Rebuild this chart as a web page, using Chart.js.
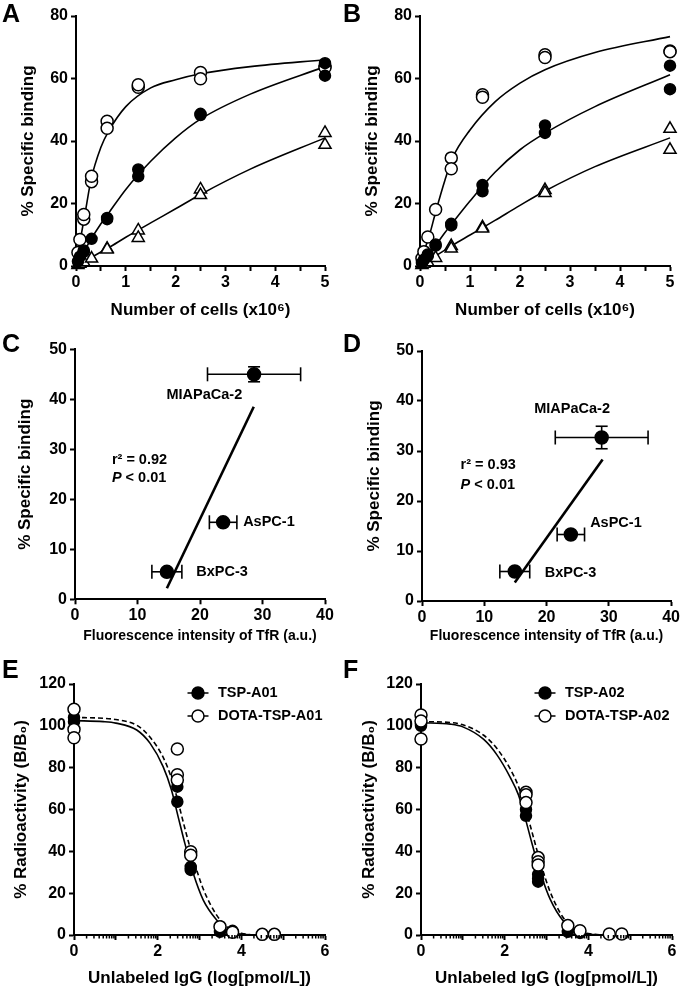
<!DOCTYPE html>
<html>
<head>
<meta charset="utf-8">
<script src="https://cdn.jsdelivr.net/npm/chart.js@4.4.0/dist/chart.umd.min.js"></script>
<style>
  body { margin: 0; background: #fff; width: 682px; height: 989px; position: relative; overflow: hidden; }
  canvas { position: absolute; }
</style>
</head>
<body>
<canvas id="pA" width="341" height="330" style="left:0;top:0"></canvas>
<canvas id="pB" width="341" height="330" style="left:341px;top:0"></canvas>
<canvas id="pC" width="341" height="320" style="left:0;top:330px"></canvas>
<canvas id="pD" width="341" height="320" style="left:341px;top:330px"></canvas>
<canvas id="pE" width="341" height="339" style="left:0;top:650px"></canvas>
<canvas id="pF" width="341" height="339" style="left:341px;top:650px"></canvas>
<script>
const FONT = '"Liberation Sans", Arial, Helvetica, sans-serif';
Chart.defaults.font.family = FONT;
Chart.defaults.color = '#000';

// A / B : % specific binding vs number of cells (x10^6)
const aOpenX = [0.039, 0.078, 0.156, 0.156, 0.3125, 0.3125, 0.625, 0.625, 1.25, 1.25, 2.5, 2.5, 5, 5];
const aOpenY = [4.3, 8.5, 15, 16.5, 27, 28.7, 46.3, 44.1, 57.2, 58, 61.9, 59.9, 64, 63.5];
const aFillX = [0.039, 0.078, 0.156, 0.156, 0.3125, 0.625, 0.625, 1.25, 1.25, 2.5, 2.5, 5, 5];
const aFillY = [1.5, 3, 5, 4.5, 8.7, 15.4, 15, 30.9, 28.7, 48.7, 48.3, 64.9, 60.9];
const aTriX = [0.039, 0.078, 0.156, 0.3125, 0.625, 0.625, 1.25, 1.25, 2.5, 2.5, 5, 5];
const aTriY = [0.3, 0.7, 1.2, 2.4, 5.5, 5.3, 11.4, 9, 24.5, 22.7, 42.6, 38.8];

const bOpenX = [0.039, 0.078, 0.156, 0.3125, 0.625, 0.625, 1.25, 1.25, 2.5, 2.5, 5, 5];
const bOpenY = [2.5, 4.6, 9.3, 18.1, 34.6, 31.1, 54.8, 54, 67.6, 66.7, 68.8, 68.6];
const bFillX = [0.039, 0.078, 0.156, 0.156, 0.3125, 0.3125, 0.625, 0.625, 1.25, 1.25, 2.5, 2.5, 5, 5];
const bFillY = [1, 2, 3.7, 3.2, 6.9, 6.5, 13.5, 13, 25.9, 23.9, 45, 42.6, 64.1, 56.6];
const bTriX = [0.039, 0.078, 0.156, 0.3125, 0.625, 0.625, 1.25, 1.25, 2.5, 2.5, 5, 5];
const bTriY = [0.3, 0.7, 1.2, 2.6, 6.4, 5.6, 12.4, 12, 24.3, 23.4, 43.9, 37.2];

// fitted curves
const fitCellsX = [0, 0.1, 0.2, 0.3, 0.5, 0.65, 1, 1.5, 2, 2.5, 3.5, 5];
const aFitOpen = [0, 9.5, 18.5, 27.5, 38, 43, 51, 57, 59.6, 61.5, 63.8, 66];
const aFitFill = [0, 2.8, 5.7, 8.5, 13.5, 16.8, 24.5, 33.5, 41, 47, 55, 63.8];
const aFitTri = [0, 0.9, 1.8, 2.7, 4.5, 5.8, 9.2, 13.8, 18.3, 22.9, 31, 41];
const bFitOpen = [0, 5.5, 10.5, 16.5, 27.5, 34.5, 43.5, 52.5, 58.5, 62.8, 68.3, 73.4];
const bFitFill = [0, 2.1, 4.2, 6.3, 10.7, 13.8, 20.8, 30, 37.2, 42.5, 51, 61.2];
const bFitTri = [0, 1, 2, 3.1, 5.1, 6.6, 9.9, 14.6, 19.4, 24, 31.8, 41];

// C / D : binding vs TfR fluorescence
const cellLines = ['MIAPaCa-2', 'AsPC-1', 'BxPC-3'];
const cTfr = [28.65, 23.7, 14.7];
const cTfrErr = [7.45, 2.2, 2.4];
const cBind = [45.0, 15.4, 5.5];
const cBindErr = [1.5, 0, 0];
const cFitX = [14.7, 28.6];
const cFitY = [2.2, 38.5];
const dTfr = [28.85, 23.9, 14.9];
const dTfrErr = [7.45, 2.2, 2.4];
const dBind = [32.7, 13.3, 5.9];
const dBindErr = [2.25, 0, 0];
const dFitX = [14.9, 29.0];
const dFitY = [3.7, 28.3];

// E / F : competition, % radioactivity vs log unlabeled IgG
const eTspX = [0, 0, 2.47, 2.47, 2.79, 2.79, 3.49, 3.79];
const eTspY = [104, 102, 70.9, 63.7, 32.6, 31.1, 1.5, 2];
const eDotaX = [0, 0, 0, 2.47, 2.47, 2.47, 2.79, 2.79, 3.49, 3.79, 4.5, 4.79];
const eDotaY = [107.9, 98.3, 94.3, 88.9, 76.6, 74.1, 39.8, 38.1, 4, 1.3, 0.3, 0.3];
const fTspX = [0, 0, 2.51, 2.51, 2.8, 2.8, 2.8, 3.51, 3.8];
const fTspY = [101, 100, 60, 57, 29, 27, 25.5, 1.5, 1];
const fDotaX = [0, 0, 0, 2.51, 2.51, 2.51, 2.8, 2.8, 2.8, 3.51, 3.8, 4.5, 4.8];
const fDotaY = [105.2, 102.3, 93.7, 68.2, 67, 63.3, 37, 35, 33.5, 4.5, 2, 0.5, 0.5];

const fitLogX = [0, 0.7, 1, 1.5, 1.82, 2.13, 2.33, 2.49, 2.65, 2.85, 3.09, 3.41, 3.73, 4, 4.5, 5, 6];
const eFitTsp = [102.5, 102, 101.3, 98, 91.6, 80.5, 69.3, 56.5, 43.8, 29.5, 16.7, 7.2, 1.6, 0.5, 0, 0, 0];
const eFitDota = [104, 103.6, 103, 100.3, 94.5, 85, 75, 63.5, 51, 36.5, 22, 9.5, 2.7, 0.8, 0, 0, 0];
const fFitTsp = [101.5, 100.8, 99.5, 93.5, 86, 75.5, 67, 56, 44, 30, 17, 6.5, 1.8, 0.5, 0, 0, 0];
const fFitDota = [102, 101.6, 100.5, 95.5, 89, 79.5, 71, 61, 49.5, 35, 20.5, 8, 2.3, 0.7, 0, 0, 0];

// log minor tick positions for the E/F x axis
const logMinor = [];
for (let d = 0; d < 6; d++) for (let k = 2; k <= 9; k++) logMinor.push(d + Math.log10(k));

function pts(xs, ys) { return xs.map((x, i) => ({ x: x, y: ys[i] })); }

function marks(kind, xs, ys, order) {
  const ds = { data: pts(xs, ys), showLine: false, clip: false, order: order,
    pointBorderColor: '#000', pointBorderWidth: 1.5, pointHoverRadius: 0 };
  if (kind === 'open') return Object.assign(ds, { pointStyle: 'circle', pointRadius: 6, pointBackgroundColor: '#fff' });
  if (kind === 'fill') return Object.assign(ds, { pointStyle: 'circle', pointRadius: 5.5, pointBackgroundColor: '#000' });
  if (kind === 'big') return Object.assign(ds, { pointStyle: 'circle', pointRadius: 6.5, pointBackgroundColor: '#000' });
  return Object.assign(ds, { pointStyle: 'triangle', pointRadius: 7, pointBackgroundColor: '#fff' });
}

function curve(xs, ys, dash, width) {
  return { data: pts(xs, ys), showLine: true, pointRadius: 0, borderColor: '#000', borderWidth: width || 1.6,
    borderDash: dash || [], cubicInterpolationMode: 'monotone', clip: false, order: 10 };
}

function errBars(xs, ys, xe, ye) {
  const out = [];
  xs.forEach((x, i) => {
    const common = { showLine: true, borderColor: '#000', borderWidth: 1.6, pointStyle: 'line',
      pointBorderColor: '#000', pointBorderWidth: 1.6, clip: false, order: 5 };
    if (xe[i]) out.push(Object.assign({ data: [{ x: x - xe[i], y: ys[i] }, { x: x + xe[i], y: ys[i] }],
      pointRadius: 7, pointRotation: 90 }, common));
    if (ye[i]) out.push(Object.assign({ data: [{ x: x, y: ys[i] - ye[i] }, { x: x, y: ys[i] + ye[i] }],
      pointRadius: 6, pointRotation: 0 }, common));
  });
  return out;
}

function decor(cfg) {
  return {
    id: 'decor',
    afterDraw(chart) {
      const ctx = chart.ctx, xs = chart.scales.x, ys = chart.scales.y;
      ctx.save();
      ctx.fillStyle = '#000';
      ctx.strokeStyle = '#000';
      ctx.textAlign = 'left';
      ctx.textBaseline = 'alphabetic';
      ctx.font = 'bold 25px ' + FONT;
      ctx.fillText(cfg.letter, 2, cfg.letterY);
      if (cfg.minor) {
        const yb = chart.chartArea.bottom;
        ctx.lineWidth = 1.5;
        ctx.beginPath();
        cfg.minor.forEach(v => { const px = xs.getPixelForValue(v); ctx.moveTo(px, yb); ctx.lineTo(px, yb + 3.5); });
        ctx.stroke();
      }
      ctx.textBaseline = 'middle';
      (cfg.notes || []).forEach(n => {
        const px = xs.getPixelForValue(n.x), py = ys.getPixelForValue(n.y);
        let total = 0;
        const segs = n.parts.map(p => {
          ctx.font = (p.italic ? 'italic ' : '') + 'bold 14.5px ' + FONT;
          const w = ctx.measureText(p.t).width;
          total += w;
          return { t: p.t, f: ctx.font, w: w };
        });
        let cx = n.align === 'center' ? px - total / 2 : px;
        segs.forEach(s => { ctx.font = s.f; ctx.fillText(s.t, cx, py); cx += s.w; });
      });
      (cfg.legend || []).forEach(l => {
        ctx.lineWidth = 1.5;
        ctx.beginPath(); ctx.moveTo(l.x - 10.5, l.y); ctx.lineTo(l.x + 10.5, l.y); ctx.stroke();
        ctx.beginPath(); ctx.arc(l.x, l.y, 6, 0, Math.PI * 2);
        ctx.fillStyle = l.fill ? '#000' : '#fff';
        ctx.fill(); ctx.stroke();
        ctx.fillStyle = '#000';
        ctx.font = 'bold 14.5px ' + FONT;
        ctx.fillText(l.text, l.x + 20, l.y);
      });
      ctx.restore();
    }
  };
}

const intLabel = v => (Number.isInteger(v) ? v : '');
const evenLabel = v => (v % 2 === 0 ? v : '');

function panel(id, o) {
  return new Chart(document.getElementById(id), {
    type: 'scatter',
    data: { datasets: o.datasets },
    options: {
      responsive: false, animation: false, devicePixelRatio: 1, events: [],
      layout: { padding: { left: 0, top: o.top, right: o.right, bottom: 0 } },
      plugins: { legend: { display: false }, tooltip: { enabled: false } },
      scales: {
        x: {
          type: 'linear', min: o.xMin, max: o.xMax,
          afterFit: s => { s.height = o.xH; },
          border: { color: '#000', width: 2 },
          grid: { drawOnChartArea: false, tickLength: 5, tickWidth: 2, tickColor: '#000' },
          ticks: { stepSize: o.xStep, autoSkip: false, maxRotation: 0, padding: 2, color: '#000',
            font: { size: 16, weight: 'bold' }, callback: o.xLabel },
          title: { display: true, text: o.xTitle, color: '#000',
            font: { size: o.xTitleSize, weight: 'bold' }, padding: { top: 0, bottom: o.xTitlePad } }
        },
        y: {
          type: 'linear', min: o.yMin, max: o.yMax,
          afterFit: s => { s.width = o.yW; },
          border: { color: '#000', width: 2 },
          grid: { drawOnChartArea: false, tickLength: 5, tickWidth: 2, tickColor: '#000' },
          ticks: { stepSize: o.yStep, autoSkip: false, padding: 3, color: '#000',
            font: { size: 16, weight: 'bold' } },
          title: { display: true, text: o.yTitle, color: '#000',
            font: { size: 17, weight: 'bold' }, padding: { top: o.yTitlePad, bottom: 0 } }
        }
      }
    },
    plugins: [decor(o.decor)]
  });
}

const cellsTitle = 'Number of cells (x10\u2076)';
const tfrTitle = 'Fluorescence intensity of TfR (a.u.)';
const igTitle = 'Unlabeled IgG (log[pmol/L])';

panel('pA', {
  top: 16, right: 16, xH: 64, yW: 76,
  xMin: 0, xMax: 5, xStep: 0.5, xLabel: intLabel, yMin: 0, yMax: 80, yStep: 20,
  xTitle: cellsTitle, xTitleSize: 17, xTitlePad: 9.8, yTitle: '% Specific binding', yTitlePad: 17.8,
  datasets: [
    marks('tri', aTriX, aTriY, 3), marks('fill', aFillX, aFillY, 1), marks('open', aOpenX, aOpenY, 2),
    curve(fitCellsX, aFitOpen), curve(fitCellsX, aFitFill), curve(fitCellsX, aFitTri)
  ],
  decor: { letter: 'A', letterY: 22 }
});

panel('pB', {
  top: 16, right: 12, xH: 64, yW: 79,
  xMin: 0, xMax: 5, xStep: 0.5, xLabel: intLabel, yMin: 0, yMax: 80, yStep: 20,
  xTitle: cellsTitle, xTitleSize: 17, xTitlePad: 9.8, yTitle: '% Specific binding', yTitlePad: 21.5,
  datasets: [
    marks('tri', bTriX, bTriY, 3), marks('fill', bFillX, bFillY, 1), marks('open', bOpenX, bOpenY, 2),
    curve(fitCellsX, bFitOpen), curve(fitCellsX, bFitFill), curve(fitCellsX, bFitTri)
  ],
  decor: { letter: 'B', letterY: 22 }
});

panel('pC', {
  top: 19.3, right: 16, xH: 50.7, yW: 75,
  xMin: 0, xMax: 40, xStep: 10, yMin: 0, yMax: 50, yStep: 10,
  xTitle: tfrTitle, xTitleSize: 14, xTitlePad: 5.6, yTitle: '% Specific binding', yTitlePad: 14.8,
  datasets: [marks('big', cTfr, cBind, 1)].concat(errBars(cTfr, cBind, cTfrErr, cBindErr),
    [curve(cFitX, cFitY, null, 2.6)]),
  decor: { letter: 'C', letterY: 22, notes: [
    { x: 20.7, y: 40.9, align: 'center', parts: [{ t: cellLines[0] }] },
    { x: 5.9, y: 27.9, parts: [{ t: 'r\u00b2 = 0.92' }] },
    { x: 5.9, y: 24.3, parts: [{ t: 'P', italic: true }, { t: ' < 0.01' }] },
    { x: 26.9, y: 15.5, parts: [{ t: cellLines[1] }] },
    { x: 19.4, y: 5.5, parts: [{ t: cellLines[2] }] }
  ] }
});

panel('pD', {
  top: 21, right: 10, xH: 49, yW: 81,
  xMin: 0, xMax: 40, xStep: 10, yMin: 0, yMax: 50, yStep: 10,
  xTitle: tfrTitle, xTitleSize: 14, xTitlePad: 5.6, yTitle: '% Specific binding', yTitlePad: 22.8,
  datasets: [marks('big', dTfr, dBind, 1)].concat(errBars(dTfr, dBind, dTfrErr, dBindErr),
    [curve(dFitX, dFitY, null, 2.6)]),
  decor: { letter: 'D', letterY: 22, notes: [
    { x: 24.1, y: 38.5, align: 'center', parts: [{ t: cellLines[0] }] },
    { x: 6.2, y: 27.2, parts: [{ t: 'r\u00b2 = 0.93' }] },
    { x: 6.2, y: 23.2, parts: [{ t: 'P', italic: true }, { t: ' < 0.01' }] },
    { x: 27.0, y: 15.7, parts: [{ t: cellLines[1] }] },
    { x: 19.7, y: 5.7, parts: [{ t: cellLines[2] }] }
  ] }
});

panel('pE', {
  top: 34, right: 16, xH: 54, yW: 74,
  xMin: 0, xMax: 6, xStep: 1, xLabel: evenLabel, yMin: 0, yMax: 120, yStep: 20,
  xTitle: igTitle, xTitleSize: 17, xTitlePad: 0.8, yTitle: '% Radioactivity (B/B\u2080)', yTitlePad: 11.5,
  datasets: [
    marks('open', eDotaX, eDotaY, 1), marks('fill', eTspX, eTspY, 2),
    curve(fitLogX, eFitTsp), curve(fitLogX, eFitDota, [5, 3])
  ],
  decor: { letter: 'E', letterY: 28, minor: logMinor, legend: [
    { x: 198, y: 43, fill: true, text: 'TSP-A01' },
    { x: 198, y: 66, fill: false, text: 'DOTA-TSP-A01' }
  ] }
});

panel('pF', {
  top: 34, right: 10, xH: 54, yW: 80,
  xMin: 0, xMax: 6, xStep: 1, xLabel: evenLabel, yMin: 0, yMax: 120, yStep: 20,
  xTitle: igTitle, xTitleSize: 17, xTitlePad: 0.8, yTitle: '% Radioactivity (B/B\u2080)', yTitlePad: 18.1,
  datasets: [
    marks('open', fDotaX, fDotaY, 1), marks('fill', fTspX, fTspY, 2),
    curve(fitLogX, fFitTsp), curve(fitLogX, fFitDota, [5, 3])
  ],
  decor: { letter: 'F', letterY: 28, minor: logMinor, legend: [
    { x: 204, y: 43, fill: true, text: 'TSP-A02' },
    { x: 204, y: 66, fill: false, text: 'DOTA-TSP-A02' }
  ] }
});
</script>
</body>
</html>
